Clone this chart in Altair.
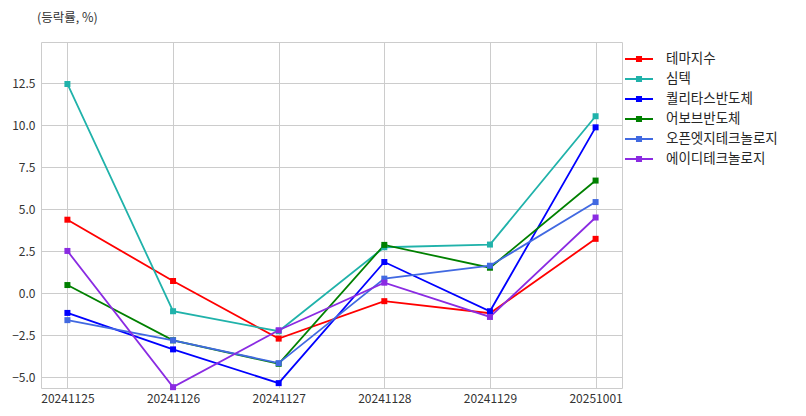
import altair as alt
import pandas as pd

dates = ["20241125", "20241126", "20241127", "20241128", "20241129", "20251001"]
series_names = ["테마지수", "심텍", "퀄리타스반도체", "어보브반도체", "오픈엣지테크놀로지", "에이디테크놀로지"]
theme_idx = [4.37, 0.72, -2.71, -0.48, -1.20, 3.23]
simtech = [12.45, -1.08, -2.27, 2.73, 2.89, 10.53]
qualitas = [-1.18, -3.35, -5.36, 1.85, -1.08, 9.87]
abov = [0.48, -2.81, -4.21, 2.87, 1.51, 6.70]
openedge = [-1.61, -2.81, -4.17, 0.86, 1.63, 5.42]
adtech = [2.51, -5.60, -2.21, 0.62, -1.42, 4.50]
colors = ["#ff0000", "#20b2aa", "#0000ff", "#008000", "#4169e1", "#8a2be2"]
y_ticks = [-5.0, -2.5, 0.0, 2.5, 5.0, 7.5, 10.0, 12.5]

all_series = [theme_idx, simtech, qualitas, abov, openedge, adtech]
rows = []
for i, (name, vals) in enumerate(zip(series_names, all_series)):
    for d, v in zip(dates, vals):
        rows.append({"date": d, "series": name, "value": v, "order": i})
df = pd.DataFrame(rows)

FONT = "Noto Sans CJK KR"

x_enc = alt.X("date:O", sort=dates, title=None,
              scale=alt.Scale(type="point", padding=0.25),
              axis=alt.Axis(labelAngle=0, ticks=False, domain=False, grid=True,
                            gridColor="#cccccc", gridWidth=1, labelFontSize=12,
                            labelColor="#333333", labelPadding=5, labelFont=FONT))
y_enc = alt.Y("value:Q", title=None,
              scale=alt.Scale(domain=[-5.65, 14.95], nice=False, zero=False),
              axis=alt.Axis(values=y_ticks, format=".1f", ticks=False, domain=False,
                            grid=True, gridColor="#cccccc", gridWidth=1,
                            labelFontSize=12, labelColor="#333333", labelPadding=6,
                            labelFont=FONT))
color_scale = alt.Scale(domain=series_names, range=colors)

lines = alt.Chart(df).mark_line(strokeWidth=1.8).encode(
    x=x_enc, y=y_enc,
    color=alt.Color("series:N", scale=color_scale, sort=series_names, title=None,
                    legend=alt.Legend(
                        orient="none", legendX=590, legendY=9, padding=0,
                        symbolType="M-2,0H2M-0.29,-0.29H0.29V0.29H-0.29Z",
                        symbolSize=196, symbolStrokeWidth=2,
                        labelFontSize=13.5, labelColor="#262626", labelFont=FONT,
                        labelOffset=19, rowPadding=5)),
    order=alt.Order("order:Q"),
    detail="series:N",
)
points = alt.Chart(df).mark_point(shape="square", filled=True, size=36, opacity=1).encode(
    x=x_enc, y=y_enc,
    color=alt.Color("series:N", scale=color_scale, sort=series_names, legend=None),
    order=alt.Order("order:Q"),
)

chart = alt.layer(lines, points).properties(
    width=581, height=346,
    autosize=alt.AutoSizeParams(type="none"),
    padding={"left": 33, "top": 34, "right": 176, "bottom": 20},
    background="white",
    title=alt.TitleParams("(등락률, %)", anchor="start", frame="group", fontSize=12.5,
                          fontWeight="normal", color="#333333", font=FONT, dx=-4,
                          offset=18),
).configure_view(stroke="#cccccc", strokeWidth=1)

chart.save("out.html", embed_options={"renderer": "svg", "actions": False})
